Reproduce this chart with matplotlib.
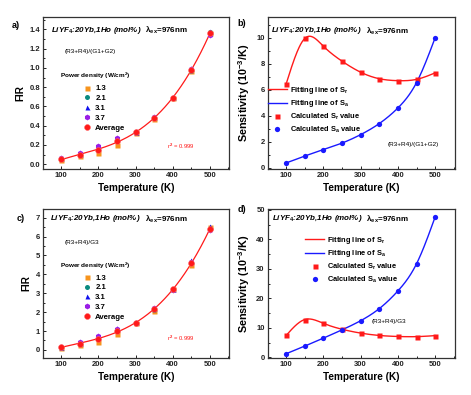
import numpy as np
import matplotlib
matplotlib.use("Agg")
import matplotlib.pyplot as plt
from matplotlib.ticker import MultipleLocator, FormatStrFormatter

plt.rcParams['font.family'] = ['Liberation Sans', 'DejaVu Sans']
plt.rcParams['font.weight'] = 'bold'
plt.rcParams['mathtext.fontset'] = 'custom'
plt.rcParams['mathtext.rm'] = 'Liberation Sans:bold'
plt.rcParams['mathtext.it'] = 'Liberation Sans:bold:italic'
plt.rcParams['mathtext.bf'] = 'Liberation Sans:bold'
plt.rcParams['mathtext.default'] = 'rm'

# ---------------- data ----------------
temps = [100, 150, 200, 250, 300, 350, 400, 450, 500]
power_labels = ['1.3', '2.1', '3.1', '3.7', 'Average']

# panel a: FIR (R3+R4)/(G1+G2)
fir_a_13 = [0.04, 0.09, 0.12, 0.20, 0.32, 0.47, 0.69, 0.97, 1.36]
fir_a_21 = [0.05, 0.10, 0.15, 0.24, 0.33, 0.48, 0.69, 0.97, 1.37]
fir_a_31 = [0.06, 0.11, 0.18, 0.27, 0.33, 0.49, 0.70, 1.00, 1.38]
fir_a_37 = [0.06, 0.12, 0.19, 0.27, 0.33, 0.49, 0.69, 0.99, 1.34]
fir_a_avg = [0.05, 0.10, 0.15, 0.24, 0.33, 0.48, 0.69, 0.98, 1.36]

# panel c: FIR (R3+R4)/G3
fir_c_13 = [0.12, 0.28, 0.42, 0.82, 1.42, 2.05, 3.25, 4.50, 6.50]
fir_c_21 = [0.14, 0.33, 0.58, 1.00, 1.42, 2.12, 3.20, 4.60, 6.40]
fir_c_31 = [0.17, 0.38, 0.72, 1.15, 1.48, 2.20, 3.20, 4.75, 6.55]
fir_c_37 = [0.18, 0.40, 0.75, 1.12, 1.42, 2.20, 3.15, 4.65, 6.35]
fir_c_avg = [0.15, 0.33, 0.60, 1.00, 1.42, 2.15, 3.20, 4.60, 6.40]

# panel b: sensitivities (10^-3/K)
sr_b = [6.45, 9.95, 9.35, 8.20, 7.35, 6.85, 6.70, 6.80, 7.30]
sa_b = [0.37, 0.90, 1.40, 1.90, 2.55, 3.40, 4.60, 6.55, 10.00]

# panel d
sr_d = [7.4, 12.8, 11.5, 9.5, 8.2, 7.4, 7.05, 7.0, 7.35]
sa_d = [1.2, 3.8, 6.5, 9.3, 12.4, 16.5, 22.5, 31.7, 47.6]

r2_text = 'r$^2$ = 0.999'

# ---------------- helpers ----------------
def natural_spline(x, y, xs):
    x = np.asarray(x, float); y = np.asarray(y, float)
    n = len(x); h = np.diff(x)
    A = np.zeros((n, n)); r = np.zeros(n)
    A[0, 0] = A[-1, -1] = 1
    for i in range(1, n - 1):
        A[i, i - 1] = h[i - 1]; A[i, i] = 2 * (h[i - 1] + h[i]); A[i, i + 1] = h[i]
        r[i] = 3 * ((y[i + 1] - y[i]) / h[i] - (y[i] - y[i - 1]) / h[i - 1])
    c = np.linalg.solve(A, r)
    b = (y[1:] - y[:-1]) / h - h * (2 * c[:-1] + c[1:]) / 3
    d = (c[1:] - c[:-1]) / (3 * h)
    idx = np.clip(np.searchsorted(x, xs) - 1, 0, n - 2)
    dx = xs - x[idx]
    return y[idx] + b[idx] * dx + c[idx] * dx ** 2 + d[idx] * dx ** 3

RED = '#ff1a1a'
BLUE = '#1a1aff'
ORANGE = '#f7941d'
TEAL = '#0a8a80'
TRI = '#1010ee'
PURPLE = '#9a1ee6'

TICK_FS = 5.5
LAB_FS = 7.2

def style_axes(ax, xlim, ylim, ymaj, ymin):
    ax.set_xlim(*xlim); ax.set_ylim(*ylim)
    ax.xaxis.set_major_locator(MultipleLocator(100))
    ax.xaxis.set_minor_locator(MultipleLocator(50))
    ax.yaxis.set_major_locator(MultipleLocator(ymaj))
    ax.yaxis.set_minor_locator(MultipleLocator(ymin))
    ax.tick_params(which='both', direction='in', labelsize=TICK_FS, pad=2,
                   width=0.7, colors='#222222')
    ax.tick_params(which='major', length=2.5)
    ax.tick_params(which='minor', length=1.5)
    for s in ax.spines.values():
        s.set_linewidth(0.9); s.set_color('#333333')
    for lab in ax.get_xticklabels() + ax.get_yticklabels():
        lab.set_fontweight('bold')
    ax.set_xlabel('Temperature (K)', fontsize=LAB_FS, fontweight='bold', labelpad=3)

def title_text(ax, x, y):
    t1 = ax.text(x, y, 'LiYF$_4$:20Yb,1Ho (mol%)', transform=ax.transAxes,
                 fontsize=5.8, fontweight='bold', style='italic', ha='left', va='center')
    ax.annotate('  λ$_{ex}$=976nm', xy=(1, 0.5), xycoords=t1, fontsize=5.8,
                fontweight='bold', ha='left', va='center')

fig = plt.figure(figsize=(4.71, 3.95), dpi=100)
axa = fig.add_axes([0.0906, 0.572, 0.396, 0.385])
axb = fig.add_axes([0.568, 0.572, 0.397, 0.385])
axc = fig.add_axes([0.0906, 0.094, 0.396, 0.377])
axd = fig.add_axes([0.568, 0.094, 0.397, 0.377])

T = np.array(temps, float)
Tf = np.linspace(100, 500, 300)

# ---------- FIR panels ----------
def fir_panel(ax, s13, s21, s31, s37, avg, ylim, ymaj, ymin, ratio_txt, legy, r2y):
    style_axes(ax, (50, 552), ylim, ymaj, ymin)
    coef = np.polyfit(T, avg, 3)
    ax.plot(Tf, np.polyval(coef, Tf), color=RED, lw=0.9, zorder=2)
    ms = 3.6
    h1, = ax.plot(T, s13, 's', color=ORANGE, ms=ms, mec='none', zorder=3)
    h2, = ax.plot(T, s21, 'o', color=TEAL, ms=ms, mec='none', zorder=3)
    h3, = ax.plot(T, s31, '^', color=TRI, ms=ms, mec='none', zorder=3)
    h4, = ax.plot(T, s37, 'h', color=PURPLE, ms=ms + 0.6, mec='none', zorder=3)
    h5, = ax.plot(T, avg, 'o', color=RED, ms=ms + 0.6, mec='#ff6060', mew=0.4, zorder=4)
    ax.set_ylabel('FIR', fontsize=LAB_FS, fontweight='bold', labelpad=3)
    ax.text(0.12, legy + 0.37, ratio_txt, transform=ax.transAxes, fontsize=4.6,
            fontweight='normal', ha='left', va='center')
    ax.text(0.093, legy + 0.21, 'Power density (W/cm$^2$)', transform=ax.transAxes,
            fontsize=4.6, fontweight='bold', ha='left', va='center')
    ax.legend([h1, h2, h3, h4, h5], power_labels, loc='center left',
              bbox_to_anchor=(0.215, legy), frameon=False, fontsize=5.6,
              handlelength=1.0, handletextpad=0.6, labelspacing=0.3,
              borderpad=0, borderaxespad=0)
    ax.text(0.666, r2y, r2_text, transform=ax.transAxes, fontsize=4.2,
            color=RED, fontweight='normal', ha='left', va='center')

fir_panel(axa, fir_a_13, fir_a_21, fir_a_31, fir_a_37, fir_a_avg,
          (-0.05, 1.53), 0.2, 0.1, '(R3+R4)/(G1+G2)', 0.40, 0.151)
axa.yaxis.set_major_formatter(FormatStrFormatter('%.1f'))
title_text(axa, 0.043, 0.914)

fir_panel(axc, fir_c_13, fir_c_21, fir_c_31, fir_c_37, fir_c_avg,
          (-0.42, 7.46), 1, 0.5, '(R3+R4)/G3', 0.406, 0.128)
title_text(axc, 0.04, 0.933)

# ---------- sensitivity panels ----------
def sens_panel(ax, sr, sa, ylim, ymaj, ymin, ratio_txt, ratio_xy, legxy, ttl_xy):
    style_axes(ax, (50, 552), ylim, ymaj, ymin)
    l1, = ax.plot(Tf, natural_spline(T, sr, Tf), color=RED, lw=1.0, zorder=2)
    l2, = ax.plot(Tf, natural_spline(T, sa, Tf), color=BLUE, lw=1.0, zorder=2)
    m1, = ax.plot(T, sr, 's', color=RED, ms=3.6, mec='none', zorder=3)
    m2, = ax.plot(T, sa, 'o', color=BLUE, ms=3.8, mec='none', zorder=3)
    ax.set_ylabel('Sensitivity (10$^{-3}$/K)', fontsize=7.8, fontweight='bold', labelpad=3)
    ax.legend([l1, l2, m1, m2],
              ['Fitting line of S$_r$', 'Fitting line of S$_a$',
               'Calculated S$_r$ value', 'Calculated S$_a$ value'],
              loc='center left', bbox_to_anchor=legxy, frameon=False, fontsize=5.4,
              handlelength=2.6, handletextpad=0.35, labelspacing=0.35,
              borderpad=0, borderaxespad=0)
    ax.text(ratio_xy[0], ratio_xy[1], ratio_txt, transform=ax.transAxes, fontsize=4.6,
            fontweight='normal', ha='left', va='center')
    title_text(ax, *ttl_xy)

sens_panel(axb, sr_b, sa_b, (-0.1, 11.6), 2, 1, '(R3+R4)/(G1+G2)', (0.64, 0.164),
           (0.0, 0.39), (0.02, 0.908))
sens_panel(axd, sr_d, sa_d, (-0.2, 50.3), 10, 5, '(R3+R4)/G3', (0.558, 0.242),
           (0.2, 0.658), (0.023, 0.933))

for lab, x, y in [('a)', 16, 25), ('b)', 242, 24), ('c)', 21, 219), ('d)', 242, 210)]:
    fig.text(x / 471, 1 - y / 395, lab, fontsize=6.5, fontweight='bold', ha='center', va='center')

fig.savefig('out.png', dpi=100)
